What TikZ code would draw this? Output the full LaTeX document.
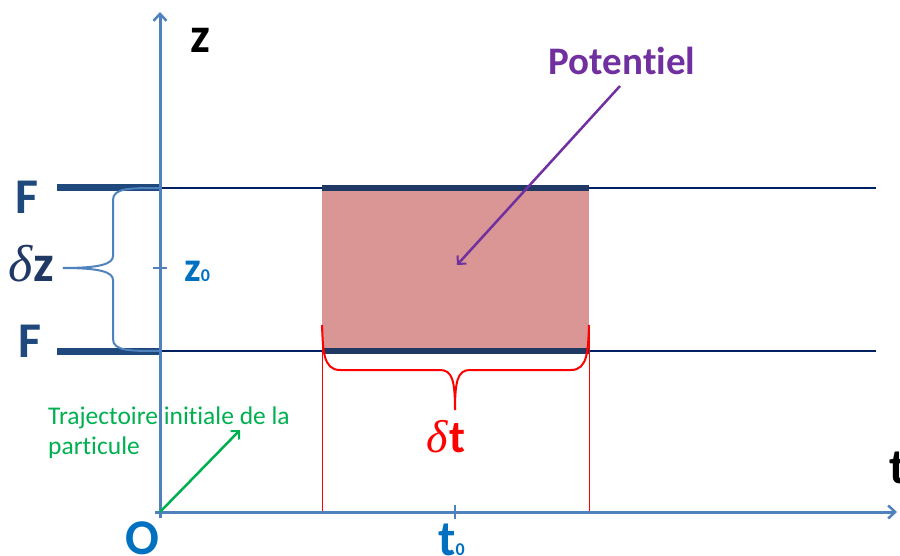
\documentclass[tikz,border=0pt]{standalone}
\usepackage{fontspec}
\setmainfont[Ligatures={NoCommon}]{Carlito}
\newfontfamily\grk{Liberation Serif}
\usetikzlibrary{arrows.meta}
\definecolor{axisblue}{HTML}{4F81BD}
\definecolor{navy}{HTML}{002060}
\definecolor{barblue}{HTML}{1F497D}
\definecolor{labblue}{HTML}{0070C0}
\definecolor{dzblue}{HTML}{1F3864}
\definecolor{pot}{HTML}{D99694}
\definecolor{purp}{HTML}{7030A0}
\definecolor{grn}{HTML}{00B050}
\newcommand{\dlt}{{\grk\itshape\mdseries δ}}
\tikzset{
  axis/.style={draw=axisblue,line width=3pt,-{Straight Barb[length=7pt,width=13pt,line width=2.5pt]}},
  hline/.style={draw=navy,line width=1.6pt},
  fbar/.style={draw=barblue,line width=7pt},
  ibar/.style={draw=dzblue,line width=6pt},
  big/.style={font=\fontsize{50}{60}\selectfont\bfseries,inner sep=0pt},
  lab/.style={inner sep=0pt},
}
\begin{document}
\begin{tikzpicture}[x=1pt,y=-1pt]
\useasboundingbox (0,0) rectangle (900,556);
% coordinates
\coordinate (O) at (160,512);
\coordinate (zend) at (160,12);
\coordinate (zstart) at (160,518);
\coordinate (tstart) at (155,512);
\coordinate (tend) at (897,512);
\coordinate (FuL) at (57,188);
\coordinate (FuR) at (160,188);
\coordinate (FdL) at (57,351);
\coordinate (FdR) at (160,351);
\coordinate (HuR) at (876,188);
\coordinate (HdR) at (876,351);
% potential box
\fill[pot] (322,188) rectangle (589,351);
\coordinate (BuL) at (322,188);
\coordinate (BuR) at (589,188);
\coordinate (BdL) at (322,351);
\coordinate (BdR) at (589,351);
% horizontal lines
\draw[hline] (FuR) -- (HuR);
\draw[hline] (FdR) -- (HdR);
\draw[ibar] (BuL) -- (BuR);
\draw[ibar] (BdL) -- (BdR);
\draw[fbar] (FuL) -- (FuR);
\draw[fbar] (FdL) -- (FdR);
% red vertical thin lines
\coordinate (rL) at (322,325);
\coordinate (rR) at (589,325);
\coordinate (rLb) at (322,512);
\coordinate (rRb) at (589,512);
\draw[red,line width=0.6pt] (rL) -- (rLb);
\draw[red,line width=0.6pt] (rR) -- (rRb);
% red brace
\coordinate (rtip) at (455,410);
\draw[red,line width=2pt] (rL) .. controls (323,350) and (323,370) .. (340,370)
  -- (440,370) .. controls (452,370) and (455,380) .. (rtip);
\draw[red,line width=2pt] (rR) .. controls (588,350) and (588,370) .. (571,370)
  -- (470,370) .. controls (458,370) and (455,380) .. (rtip);
% axes
\draw[axis] (zstart) -- (zend);
\draw[axis] (tstart) -- (tend);
% ticks
\coordinate (z0a) at (153,268);
\coordinate (z0b) at (167,268);
\draw[axisblue,line width=1.5pt] (z0a) -- (z0b);
\coordinate (t0a) at (455,505);
\coordinate (t0b) at (455,519);
\draw[axisblue,line width=1.5pt] (t0a) -- (t0b);
% left brace
\coordinate (ltip) at (63,268);
\draw[axisblue,line width=2pt] (FuR) .. controls (130,188) and (113,188) .. (113,200)
  -- (113,256) .. controls (113,264) and (100,268) .. (ltip);
\draw[axisblue,line width=2pt] (FdR) .. controls (130,351) and (113,351) .. (113,339)
  -- (113,280) .. controls (113,272) and (100,268) .. (ltip);
% labels
\node[big,anchor=base] (zlab) at (200,53) {z};
\node[big,anchor=base west] (tlab) at (889,483) {t};
\node[big,anchor=base,text=barblue] (F1) at (27,214) {F};
\node[big,anchor=base,text=barblue] (F2) at (30,357) {F};
\node[lab,anchor=base west,text=dzblue,font=\fontsize{52}{60}\selectfont\bfseries] (dz) at (8,281) {\dlt\kern1pt z};
\node[lab,anchor=base west,text=labblue,font=\fontsize{42}{46}\selectfont\bfseries] (z0) at (184,281) {z\fontsize{18}{20}\selectfont 0};
\node[big,anchor=base,text=labblue] (Olab) at (142,554) {O};
\node[big,anchor=base west,text=labblue] (t0) at (438,555) {t\fontsize{18}{20}\selectfont 0};
\node[lab,anchor=base,text=red,font=\fontsize{46}{50}\selectfont\bfseries] (dt) at (446,452) {\dlt\kern1pt t};
\node[lab,anchor=base,text=purp,font=\fontsize{39}{44}\selectfont\bfseries] (pot) at (622,75) {Potentiel};
\node[lab,anchor=north west,align=left,text=grn,font=\fontsize{25.5}{30}\selectfont] (traj) at (48,407) {Trajectoire initiale de la\\particule};
% arrows
\coordinate (potS) at (620,86);
\coordinate (potE) at (457,265);
\draw[purp,line width=2.5pt,-{Straight Barb[length=6pt,width=12pt,line width=2pt]}] (potS) -- (potE);
\coordinate (gE) at (240,430);
\draw[grn,line width=2.5pt,-{Straight Barb[length=6pt,width=12pt,line width=2pt]}] (O) -- (gE);
\end{tikzpicture}
\end{document}
